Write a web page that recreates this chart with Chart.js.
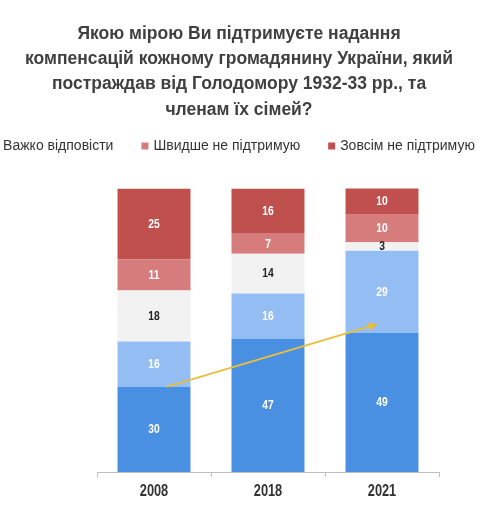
<!DOCTYPE html>
<html>
<head>
<meta charset="utf-8">
<script src="https://cdn.jsdelivr.net/npm/chart.js@4"></script>
<style>
  html, body { margin: 0; padding: 0; background: #fff; }
  #wrap { width: 478px; height: 514px; }
</style>
</head>
<body>
<div id="wrap"><canvas id="canvas_support"></canvas></div>
<script>
// survey years
var years = [ "2008", "2018", "2021" ];
// shares, %, bottom to top
var fullySupport = [ 30, 47, 49 ];
var ratherSupport = [ 16, 16, 29 ];
var hardToSay = [ 18, 14, 3 ];
var ratherNot = [ 11, 7, 10 ];
var notAtAll = [ 25, 16, 10 ];
// trend arrow: [category index, value]
var arrowFrom = [ 0.11, 30 ];
var arrowTo = [ 1.95, 52 ];

var sans = "'Liberation Sans', Arial, sans-serif";

// narrow-looking text: normal font squeezed horizontally
function condensedText(ctx, text, x, y, squeeze) {
	ctx.save();
	ctx.translate(x, y);
	ctx.scale(squeeze, 1);
	ctx.fillText(text, 0, 0);
	ctx.restore();
}

// values inside the segments
var segmentLabels = {
	id : "segmentLabels",
	afterDatasetsDraw : function(chart) {
		var ctx = chart.ctx;
		ctx.save();
		ctx.font = "bold 12px " + sans;
		ctx.textAlign = "center";
		ctx.textBaseline = "middle";
		chart.data.datasets.forEach(function(ds, i) {
			var meta = chart.getDatasetMeta(i);
			meta.data.forEach(function(bar, j) {
				var top = Math.max(bar.y, chart.chartArea.top);
				ctx.fillStyle = ds.labelColor;
				condensedText(ctx, ds.data[j], bar.x, (top + bar.base) / 2 + 0.5, 0.86);
			});
		});
		ctx.restore();
	}
};

// year labels under the axis
var yearLabels = {
	id : "yearLabels",
	afterDraw : function(chart) {
		var x = chart.scales.x, ctx = chart.ctx;
		ctx.save();
		ctx.font = "bold 16px " + sans;
		ctx.textAlign = "center";
		ctx.textBaseline = "middle";
		ctx.fillStyle = "#333333";
		years.forEach(function(year, i) {
			condensedText(ctx, year, x.getPixelForTick(i), x.top + 19.5, 0.8);
		});
		ctx.restore();
	}
};

// yellow trend arrow
var trendArrow = {
	id : "trendArrow",
	afterDatasetsDraw : function(chart) {
		var x = chart.scales.x, y = chart.scales.y, ctx = chart.ctx;
		var x1 = x.getPixelForValue(arrowFrom[0]), y1 = y.getPixelForValue(arrowFrom[1]);
		var x2 = x.getPixelForValue(arrowTo[0]), y2 = y.getPixelForValue(arrowTo[1]);
		var a = Math.atan2(y2 - y1, x2 - x1);
		ctx.save();
		ctx.strokeStyle = "#e9be3a";
		ctx.fillStyle = "#e9be3a";
		ctx.lineWidth = 1.8;
		ctx.beginPath();
		ctx.moveTo(x1, y1);
		ctx.lineTo(x2 - 4 * Math.cos(a), y2 - 4 * Math.sin(a));
		ctx.stroke();
		ctx.beginPath();
		ctx.moveTo(x2 + 2 * Math.cos(a), y2 + 2 * Math.sin(a));
		ctx.lineTo(x2 - 8 * Math.cos(a) + 4 * Math.sin(a), y2 - 8 * Math.sin(a) - 4 * Math.cos(a));
		ctx.lineTo(x2 - 8 * Math.cos(a) - 4 * Math.sin(a), y2 - 8 * Math.sin(a) + 4 * Math.cos(a));
		ctx.closePath();
		ctx.fill();
		ctx.restore();
	}
};

// legend row (the left part is cut off in the original, so the first
// visible entry has no swatch)
var legendRow = {
	id : "legendRow",
	afterDraw : function(chart) {
		var ctx = chart.ctx;
		var items = chart.data.datasets.slice(2);
		var box = 7, gap = 5, spacing = 28, yMid = 146;
		ctx.save();
		ctx.font = "14px " + sans;
		ctx.textBaseline = "middle";
		var total = 0;
		items.forEach(function(ds, i) {
			total += ctx.measureText(ds.label).width + (i > 0 ? box + gap + spacing : 0);
		});
		var x = (chart.width - total) / 2;
		items.forEach(function(ds, i) {
			if (i > 0) {
				x += spacing;
				ctx.fillStyle = ds.backgroundColor;
				ctx.fillRect(x, yMid - box / 2, box, box);
				x += box + gap;
			}
			ctx.fillStyle = "#333333";
			ctx.fillText(ds.label, x, yMid);
			x += ctx.measureText(ds.label).width;
		});
		ctx.restore();
	}
};

function fixedWidth(w) {
	return function(scale) {
		scale.width = w;
	};
}

var supportChart = new Chart(document.getElementById("canvas_support"), {
	type : "bar",
	data : {
		labels : years,
		datasets : [ {
			label : "Повністю підтримую",
			data : fullySupport,
			backgroundColor : "#4a90e2",
			labelColor : "#ffffff"
		}, {
			label : "Швидше підтримую",
			data : ratherSupport,
			backgroundColor : "#93bdf3",
			labelColor : "#ffffff"
		}, {
			label : "Важко відповісти",
			data : hardToSay,
			backgroundColor : "#f2f2f2",
			labelColor : "#222222"
		}, {
			label : "Швидше не підтримую",
			data : ratherNot,
			backgroundColor : "#d67c7c",
			labelColor : "#ffffff"
		}, {
			label : "Зовсім не підтримую",
			data : notAtAll,
			backgroundColor : "#c0504d",
			labelColor : "#ffffff"
		} ]
	},
	options : {
		responsive : true,
		maintainAspectRatio : false,
		animation : false,
		layout : {
			padding : { left : 0, right : 0, top : 0, bottom : 11 }
		},
		datasets : {
			bar : { barPercentage : 0.64, categoryPercentage : 1.0 }
		},
		plugins : {
			title : {
				display : true,
				text : [ "Якою мірою Ви підтримуєте надання",
						"компенсацій кожному громадянину України, який",
						"постраждав від Голодомору 1932-33 рр., та",
						"членам їх сімей?" ],
				color : "#404040",
				font : { family : sans, size : 17.5, weight : "bold", lineHeight : 1.45 },
				padding : { top : 21, bottom : 66 }
			},
			legend : { display : false },
			tooltip : { enabled : false }
		},
		scales : {
			x : {
				stacked : true,
				grid : {
					display : true,
					drawOnChartArea : false,
					offset : true,
					color : "#bfbfbf",
					tickLength : 5
				},
				border : { color : "#bfbfbf" },
				ticks : {
					// drawn by yearLabels; kept here for the axis height
					color : "rgba(0,0,0,0)",
					font : { family : sans, size : 15, weight : "bold" },
					padding : 4
				}
			},
			y : {
				stacked : true,
				display : true,
				min : 0,
				max : 100,
				ticks : { display : false },
				grid : { display : false },
				border : { display : false },
				afterFit : fixedWidth(97)
			},
			yRight : {
				type : "linear",
				position : "right",
				display : true,
				ticks : { display : false },
				grid : { display : false },
				border : { display : false },
				afterFit : fixedWidth(39)
			}
		}
	},
	plugins : [ segmentLabels, trendArrow, legendRow, yearLabels ]
});
</script>
</body>
</html>
